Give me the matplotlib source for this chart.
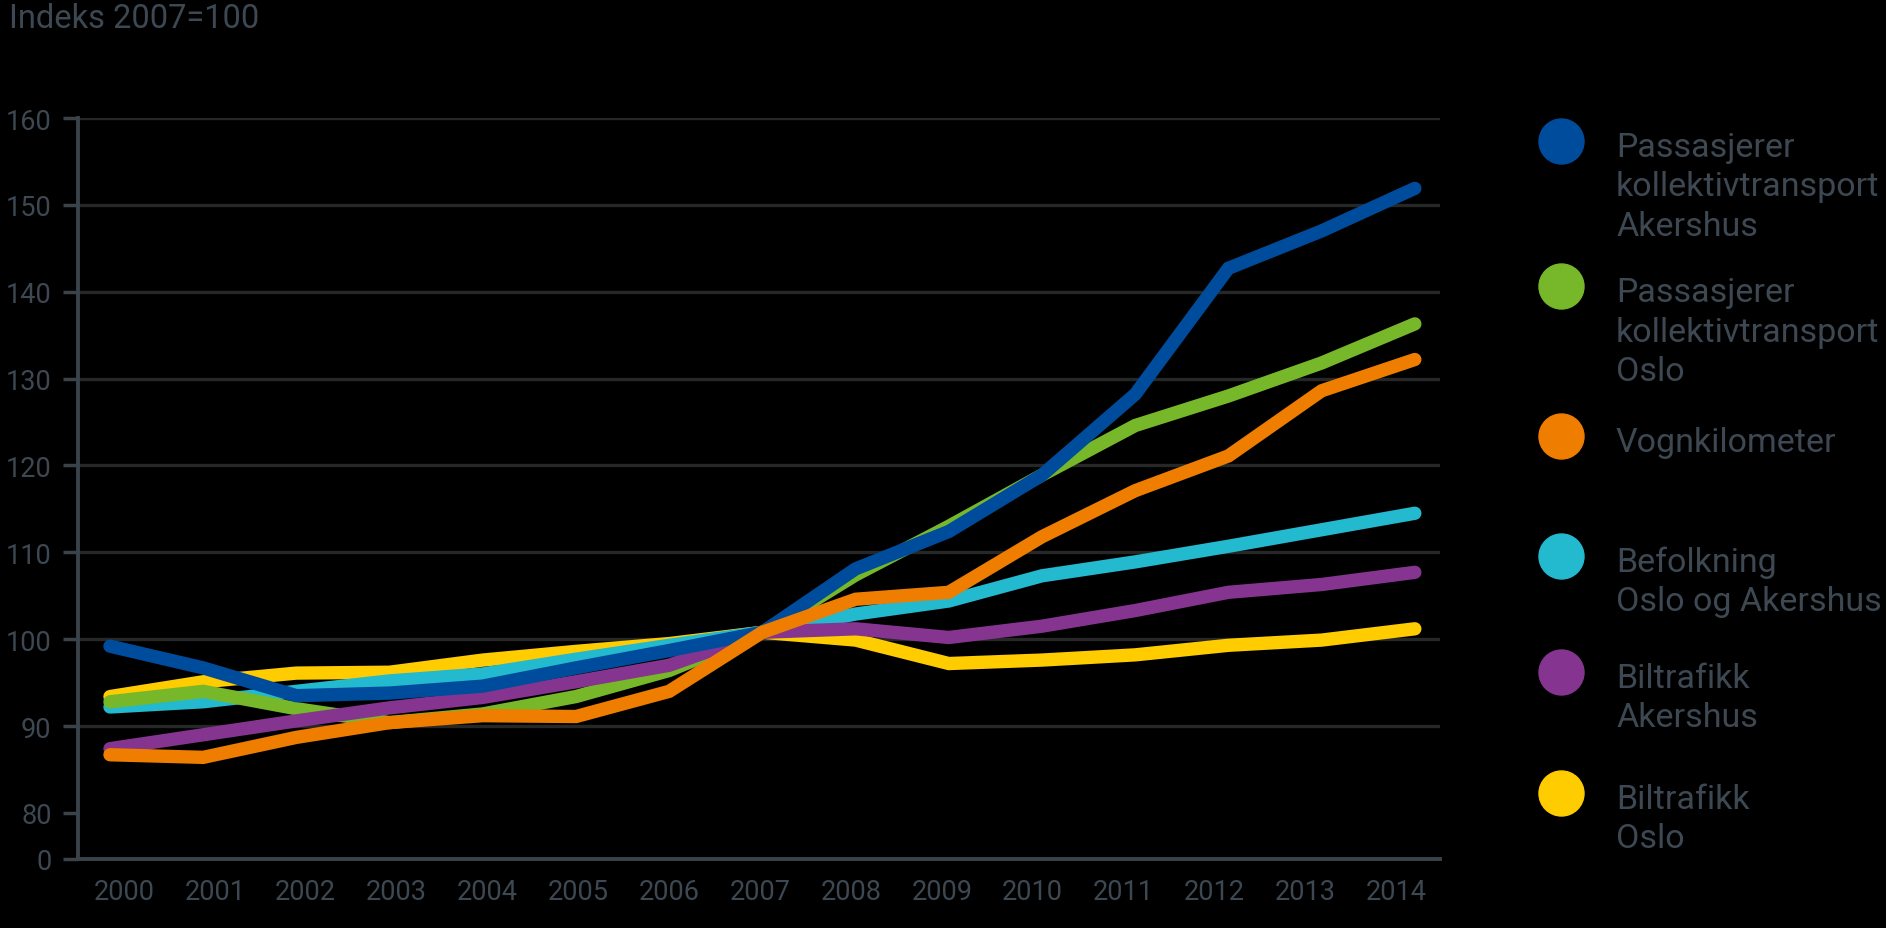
import numpy as np
import matplotlib
matplotlib.use("Agg")
import matplotlib.pyplot as plt
from matplotlib.lines import Line2D

years = list(range(2000, 2015))

pass_akershus = [99.2, 96.7, 93.5, 93.8, 94.6, 96.7, 98.7, 100.8, 108.1, 112.4, 118.9, 128.2, 142.7, 147.0, 151.9]
pass_oslo = [92.8, 94.0, 92.0, 90.4, 91.4, 93.4, 96.4, 100.8, 107.4, 113.0, 118.9, 124.6, 128.0, 131.8, 136.3]
vognkm = [86.7, 86.4, 88.7, 90.4, 91.2, 91.1, 94.0, 100.8, 104.6, 105.4, 111.8, 117.1, 121.1, 128.6, 132.2]
befolkning = [92.2, 92.8, 94.0, 95.2, 96.0, 97.7, 99.3, 100.8, 102.9, 104.4, 107.3, 108.9, 110.7, 112.6, 114.5]
bil_akershus = [87.4, 89.0, 90.6, 92.1, 93.3, 95.1, 97.0, 100.8, 101.2, 100.2, 101.5, 103.3, 105.4, 106.3, 107.7]
bil_oslo = [93.4, 95.1, 96.1, 96.2, 97.6, 98.6, 99.5, 100.8, 99.9, 97.2, 97.6, 98.2, 99.3, 99.9, 101.2]

labels = ["Passasjerer\nkollektivtransport\nAkershus",
          "Passasjerer\nkollektivtransport\nOslo",
          "Vognkilometer",
          "Befolkning\nOslo og Akershus",
          "Biltrafikk\nAkershus",
          "Biltrafikk\nOslo"]
colors = ["#004c9c", "#77b82a", "#ef7d00", "#23b9cf", "#85358f", "#ffcc00"]
series = [pass_akershus, pass_oslo, vognkm, befolkning, bil_akershus, bil_oslo]

ytick_vals = [80, 90, 100, 110, 120, 130, 140, 150, 160]
zero_pos = 74.7  # axis is broken: "0" sits just below 80

txt = "#3d4852"
spine = "#3a434a"
grid = "#262828"
font = "Roboto"

fig = plt.figure(figsize=(18.86, 9.29), dpi=100, facecolor="black")
ax = fig.add_axes([78 / 1886, 1 - 860 / 929, (1440 - 78) / 1886, (860 - 119) / 929])
ax.set_facecolor("black")

for v in ytick_vals[1:]:
    ax.axhline(v, color=grid, lw=2.4, zorder=1)

# drawing order seen in the picture (bottom -> top)
order = [5, 3, 1, 4, 0, 2]
for z, i in enumerate(order):
    ax.plot(years, series[i], color=colors[i], lw=9.6, solid_capstyle="round",
            solid_joinstyle="miter", zorder=3 + z)

ax.set_xlim(1999.657, 2014.27)
ax.set_ylim(zero_pos, 160)

ax.set_yticks([zero_pos] + ytick_vals)
ax.set_yticklabels(["0"] + [str(v) for v in ytick_vals])
label_pos = 2000.15 + (np.array(years) - 2000) * 0.975
ax.set_xticks(label_pos)
ax.set_xticklabels([str(y) for y in years])

ax.tick_params(axis="y", length=11, width=2.5, color=spine, pad=8,
               labelsize=19.5, labelcolor=txt)
ax.tick_params(axis="x", length=0, pad=14, labelsize=19.5, labelcolor=txt)
for lab in ax.get_xticklabels() + ax.get_yticklabels():
    lab.set_family(font)

for s in ["top", "right"]:
    ax.spines[s].set_visible(False)
for s in ["left", "bottom"]:
    ax.spines[s].set_color(spine)
    ax.spines[s].set_linewidth(2.8)
    ax.spines[s].set_zorder(2)

fig.text(9 / 1886, 1 - 19 / 929, "Indeks 2007=100", color=txt, fontsize=23.5,
         family=font, va="center", ha="left")

# legend, drawn by hand: circle + text lines
leg_y = [141.7, 287.3, 437.3, 556.7, 672.7, 794.0]
for i, lab in enumerate(labels):
    y = leg_y[i]
    fig.add_artist(Line2D([1560.7 / 1886], [1 - y / 929], marker="o", markersize=32.4,
                          color=colors[i], transform=fig.transFigure))
    for k, line in enumerate(lab.split("\n")):
        fig.text(1616 / 1886, 1 - (y + 15 + k * 39.5) / 929, line, color=txt,
                 fontsize=24.5, family=font, va="baseline", ha="left")

fig.savefig("out.png", dpi=100, facecolor="black")
